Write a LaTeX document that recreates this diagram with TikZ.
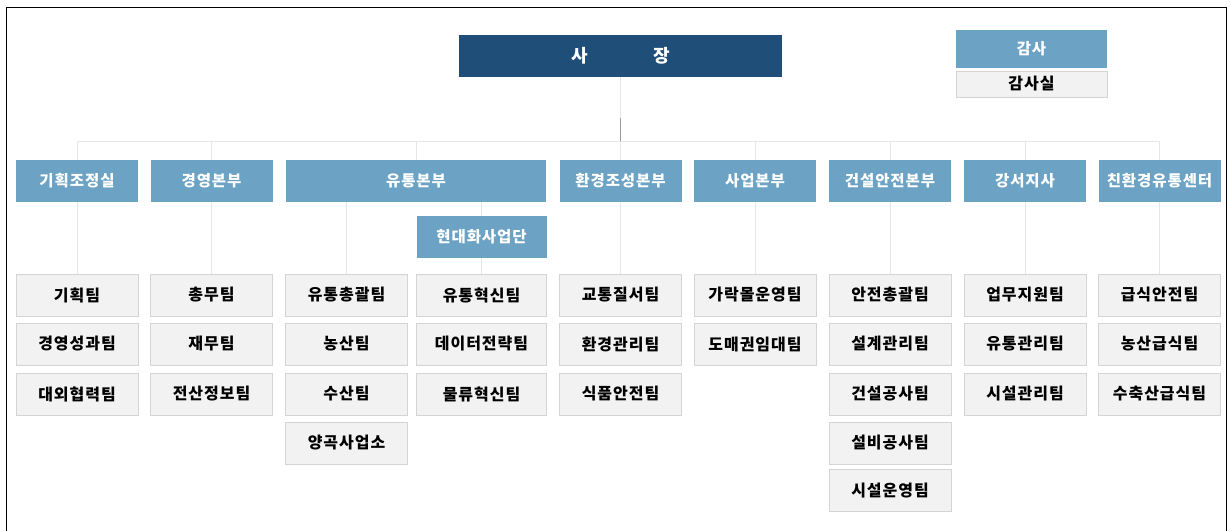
\documentclass[tikz,border=0pt]{standalone}
\usepackage{fontspec}
\setmainfont[LetterSpace=6]{Noto Sans CJK KR}
\usepackage{tikz}
\usetikzlibrary{positioning,calc}
\definecolor{chiefblue}{HTML}{1F4E79}
\definecolor{deptblue}{HTML}{6CA3C4}
\definecolor{teamgray}{HTML}{F2F2F2}
\definecolor{teamline}{HTML}{D4D4D4}
\definecolor{linegray}{HTML}{E6E6E6}

\begin{document}
\begin{tikzpicture}[x=1pt,y=-1pt,
    chief/.style={fill=chiefblue, text=white, font=\fontsize{18}{21}\selectfont\bfseries, minimum width=323pt, minimum height=42pt, inner sep=0pt},
    dept/.style={fill=deptblue, text=white, font=\fontsize{15.5}{18}\selectfont\bfseries, minimum width=122pt, minimum height=42pt, inner sep=0pt},
    team/.style={fill=teamgray, draw=teamline, line width=0.6pt, font=\fontsize{16}{19}\selectfont\bfseries, minimum width=122pt, minimum height=42pt, inner sep=0pt},
    link/.style={draw=linegray, line width=0.8pt}]
    \useasboundingbox (0,0) rectangle (1231,530);
    \draw[line width=1.8pt] (6.5,545) |- (1226.5,7.5) -- (1226.5,545);

    % Top
    \node[chief] (ceo) at (620.5,56) {사\hspace{65pt}장};
    \node[dept, minimum width=151pt, minimum height=38pt] (audit) at (1031.5,49) {감사};
    \node[team, minimum width=151pt, minimum height=26pt] (auditoff) at (1031.5,84) {감사실};
    \coordinate (bus) at (620.5,141);
    \coordinate (ceoj) at (620.5,118);

    % Departments
    \node[dept] (plan) at (77,181) {기획조정실};
    \node[dept] (mgmt) at (211.5,181) {경영본부};
    \node[dept, minimum width=260pt] (dist) at (416,181) {유통본부};
    \node[dept] (env) at (620.5,181) {환경조성본부};
    \node[dept] (biz) at (755,181) {사업본부};
    \node[dept] (build) at (890,181) {건설안전본부};
    \node[dept] (gangseo) at (1025,181) {강서지사};
    \node[dept] (eco) at (1159.5,181) {친환경유통센터};
    \node[dept, minimum width=130pt] (modern) at (481.5,237) {현대화사업단};

    % Teams
    \node[team] (plan1) at (77,295) {기획팀};
    \node[team] (plan2) at (77,344) {경영성과팀};
    \node[team] (plan3) at (77,394) {대외협력팀};
    \node[team] (mgmt1) at (211.5,295) {총무팀};
    \node[team] (mgmt2) at (211.5,344) {재무팀};
    \node[team] (mgmt3) at (211.5,394) {전산정보팀};
    \node[team] (dist1) at (346.5,295) {유통총괄팀};
    \node[team] (dist2) at (346.5,344) {농산팀};
    \node[team] (dist3) at (346.5,394) {수산팀};
    \node[team] (dist4) at (346.5,443) {양곡사업소};
    \node[team, minimum width=130pt] (modern1) at (481.5,295) {유통혁신팀};
    \node[team, minimum width=130pt] (modern2) at (481.5,344) {데이터전략팀};
    \node[team, minimum width=130pt] (modern3) at (481.5,394) {물류혁신팀};
    \node[team] (env1) at (620.5,295) {교통질서팀};
    \node[team] (env2) at (620.5,344) {환경관리팀};
    \node[team] (env3) at (620.5,394) {식품안전팀};
    \node[team] (biz1) at (755,295) {가락몰운영팀};
    \node[team] (biz2) at (755,344) {도매권임대팀};
    \node[team] (build1) at (890,295) {안전총괄팀};
    \node[team] (build2) at (890,344) {설계관리팀};
    \node[team] (build3) at (890,394) {건설공사팀};
    \node[team] (build4) at (890,443) {설비공사팀};
    \node[team] (build5) at (890,490.5) {시설운영팀};
    \node[team] (gangseo1) at (1025,295) {업무지원팀};
    \node[team] (gangseo2) at (1025,344) {유통관리팀};
    \node[team] (gangseo3) at (1025,394) {시설관리팀};
    \node[team] (eco1) at (1159.5,295) {급식안전팀};
    \node[team] (eco2) at (1159.5,344) {농산급식팀};
    \node[team] (eco3) at (1159.5,394) {수축산급식팀};

    % Links
    \draw[link] (ceo) -- (ceoj);
    \draw[link, draw=black!40] (ceoj) -- (bus);
    \draw[link] (plan.north |- bus) -- (eco.north |- bus);
    \draw[link] (plan.north |- bus) -- (plan.north);
    \draw[link] (mgmt.north |- bus) -- (mgmt.north);
    \draw[link] (dist.north |- bus) -- (dist.north);
    \draw[link] (env.north |- bus) -- (env.north);
    \draw[link] (biz.north |- bus) -- (biz.north);
    \draw[link] (build.north |- bus) -- (build.north);
    \draw[link] (gangseo.north |- bus) -- (gangseo.north);
    \draw[link] (eco.north |- bus) -- (eco.north);
    \draw[link] (plan) -- (plan1);
    \draw[link] (mgmt) -- (mgmt1);
    \draw[link] (dist1.north |- dist.south) -- (dist1);
    \draw[link] (modern.north |- dist.south) -- (modern);
    \draw[link] (modern) -- (modern1);
    \draw[link] (env) -- (env1);
    \draw[link] (biz) -- (biz1);
    \draw[link] (build) -- (build1);
    \draw[link] (gangseo) -- (gangseo1);
    \draw[link] (eco) -- (eco1);
\end{tikzpicture}
\end{document}
